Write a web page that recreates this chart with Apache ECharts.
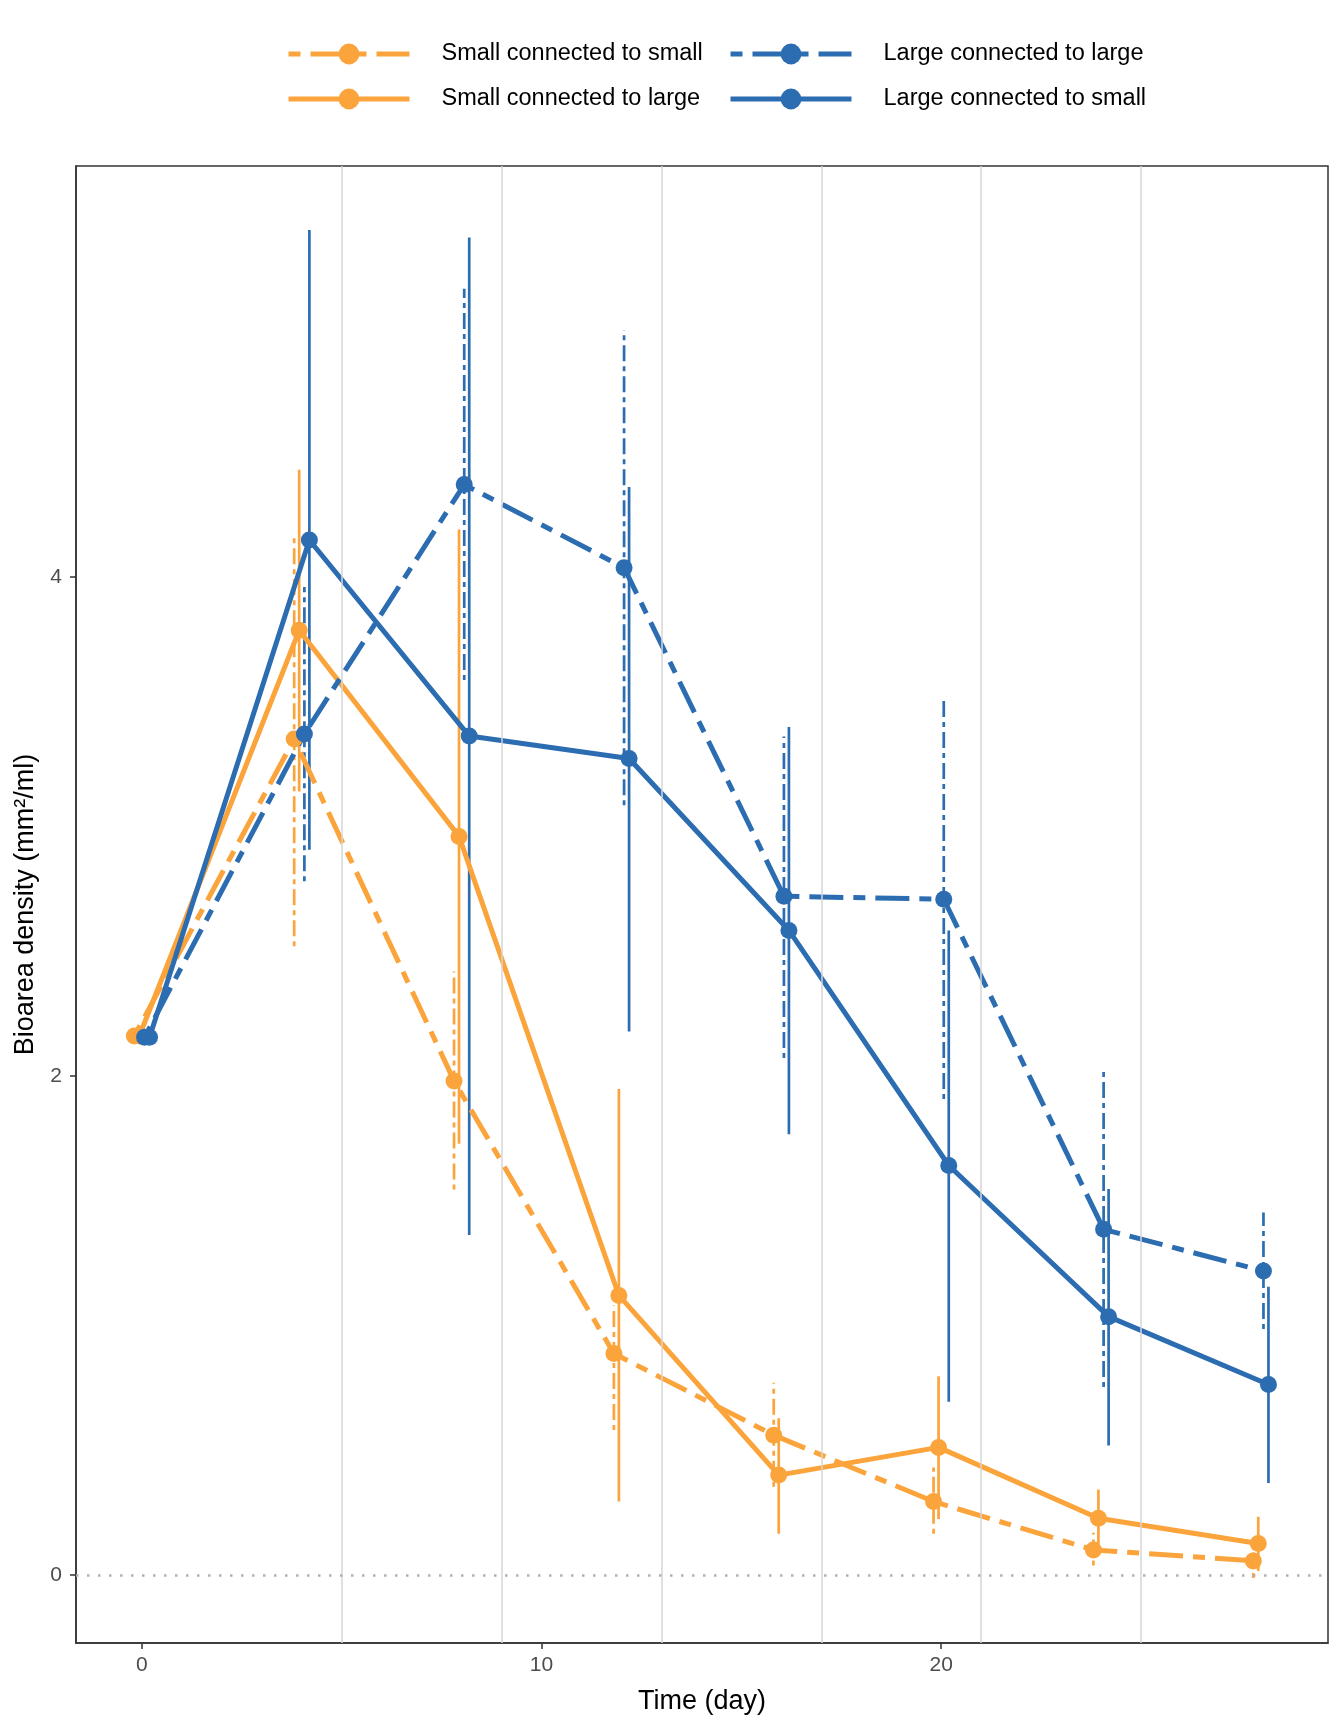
<!DOCTYPE html>
<html>
<head>
<meta charset="utf-8">
<script src="https://cdn.jsdelivr.net/npm/echarts@6/dist/echarts.min.js"></script>
<style>
  html, body { margin: 0; padding: 0; background: #fff; }
  #main { width: 1344px; height: 1728px; }
</style>
</head>
<body>
<div id="main"></div>
<script>
// sampling days and tick labels
const times = [0, 4, 8, 12, 16, 20, 24, 28];
const xTicks = [0, 10, 20];
const yTicks = [0, 2, 4];
const separators = [5, 9, 13, 17, 21, 25];

// Small connected to small
const ssMean = [2.16, 3.35, 1.98, 0.887, 0.56, 0.294, 0.10, 0.056];
const ssLow  = [2.16, 2.52, 1.545, 0.581, 0.353, 0.165, 0.038, -0.012];
const ssHigh = [2.16, 4.17, 2.418, 1.08, 0.77, 0.43, 0.169, 0.09];
// Small connected to large
const slMean = [2.16, 3.786, 2.96, 1.12, 0.40, 0.511, 0.227, 0.126];
const slLow  = [2.16, 3.14, 1.728, 0.294, 0.165, 0.224, 0.123, 0.016];
const slHigh = [2.16, 4.43, 4.19, 1.948, 0.628, 0.796, 0.342, 0.233];
// Large connected to large
const llMean = [2.155, 3.37, 4.37, 4.037, 2.72, 2.708, 1.385, 1.218];
const llLow  = [2.155, 2.78, 3.587, 3.085, 2.072, 1.907, 0.753, 0.986];
const llHigh = [2.155, 3.96, 5.155, 4.99, 3.36, 3.505, 2.02, 1.452];
// Large connected to small
const lsMean = [2.155, 4.148, 3.362, 3.272, 2.583, 1.641, 1.035, 0.763];
const lsLow  = [2.155, 2.906, 1.362, 2.178, 1.766, 0.694, 0.519, 0.368];
const lsHigh = [2.155, 5.39, 5.36, 4.36, 3.398, 2.583, 1.547, 1.155];

const ORANGE = "#FBA43C";
const BLUE = "#2C6DB2";
const FONT = "Liberation Sans, Arial, sans-serif";

const groups = [
  { name: "Small connected to small", mean: ssMean, low: ssLow, high: ssHigh, color: ORANGE, dashed: true, dodge: -0.19 },
  { name: "Small connected to large", mean: slMean, low: slLow, high: slHigh, color: ORANGE, dashed: false, dodge: -0.065 },
  { name: "Large connected to large", mean: llMean, low: llLow, high: llHigh, color: BLUE, dashed: true, dodge: 0.065 },
  { name: "Large connected to small", mean: lsMean, low: lsLow, high: lsHigh, color: BLUE, dashed: false, dodge: 0.19 }
];

const LINE_DASH = [12, 10, 34, 10];

let myChart = echarts.init(document.getElementById("main"), null, { renderer: "canvas" });

const series = [];

// separators and zero line live on an empty helper series
series.push({
  type: "line",
  data: [],
  silent: true,
  z: 1,
  markLine: {
    silent: true,
    symbol: "none",
    label: { show: false },
    animation: false,
    data: separators.map((v) => ({ xAxis: v, lineStyle: { color: "#d6d6d6", width: 1.5, type: "solid" } }))
      .concat([{ yAxis: 0, lineStyle: { color: "#b0b0b0", width: 2.5, type: [2.5, 8.5] } }])
  }
});

groups.forEach((g) => {
  series.push({
    name: g.name,
    type: "line",
    z: 4,
    data: times.map((t, i) => [t + g.dodge, g.mean[i]]),
    symbol: "circle",
    symbolSize: 17,
    showSymbol: true,
    itemStyle: { color: g.color },
    lineStyle: { color: g.color, width: 5, type: g.dashed ? LINE_DASH : "solid", cap: "butt" },
    animation: false
  });
});

groups.forEach((g) => {
  series.push({
    name: g.name,
    type: "custom",
    z: 3,
    data: times.map((t, i) => [t + g.dodge, g.low[i], g.high[i]]),
    encode: { x: 0, y: [1, 2] },
    renderItem: function (params, api) {
      const p1 = api.coord([api.value(0), api.value(1)]);
      const p2 = api.coord([api.value(0), api.value(2)]);
      return {
        type: "line",
        shape: { x1: p1[0], y1: p1[1], x2: p2[0], y2: p2[1] },
        style: { stroke: g.color, lineWidth: 2.7, lineDash: g.dashed ? [5, 5, 16, 5] : null }
      };
    },
    animation: false
  });
});

function legendData(list) {
  return list.map((g) => ({
    name: g.name,
    itemStyle: { color: g.color },
    lineStyle: { color: g.color, width: 5, type: g.dashed ? LINE_DASH : "solid" }
  }));
}

const legendCommon = {
  orient: "vertical",
  top: 37,
  itemWidth: 121,
  itemHeight: 26,
  itemGap: 21,
  textStyle: { fontSize: 23.5, color: "#000", fontFamily: FONT, padding: [0, 0, 0, 27] }
};

let options = {
  backgroundColor: "#fff",
  textStyle: { fontFamily: FONT },
  animation: false,
  legend: [
    Object.assign({ left: 281, data: legendData([groups[0], groups[1]]) }, legendCommon),
    Object.assign({ left: 723, data: legendData([groups[2], groups[3]]) }, legendCommon)
  ],
  grid: {
    left: 76, right: 16, top: 166, bottom: 85,
    show: true, borderColor: "#333", borderWidth: 1.5, backgroundColor: "#fff"
  },
  xAxis: {
    type: "value",
    min: -1.65,
    max: 29.68,
    splitLine: { show: false },
    axisLine: { show: true, onZero: false, lineStyle: { color: "#333", width: 1.5 } },
    axisTick: { show: true, customValues: xTicks, length: 6, lineStyle: { color: "#333", width: 1.5 } },
    axisLabel: { customValues: xTicks, fontSize: 21, color: "#4d4d4d", margin: 12, fontFamily: FONT },
    name: "Time (day)",
    nameLocation: "middle",
    nameGap: 45,
    nameTextStyle: { fontSize: 27, color: "#000", fontFamily: FONT }
  },
  yAxis: {
    type: "value",
    min: -0.273,
    max: 5.647,
    splitLine: { show: false },
    axisLine: { show: true, onZero: false, lineStyle: { color: "#333", width: 1.5 } },
    axisTick: { show: true, customValues: yTicks, length: 6, lineStyle: { color: "#333", width: 1.5 } },
    axisLabel: { customValues: yTicks, fontSize: 21, color: "#4d4d4d", margin: 14, fontFamily: FONT },
    name: "Bioarea density (mm²/ml)",
    nameLocation: "middle",
    nameGap: 36,
    nameTextStyle: { fontSize: 27, color: "#000", fontFamily: FONT }
  },
  series: series
};

myChart.setOption(options);
</script>
</body>
</html>
